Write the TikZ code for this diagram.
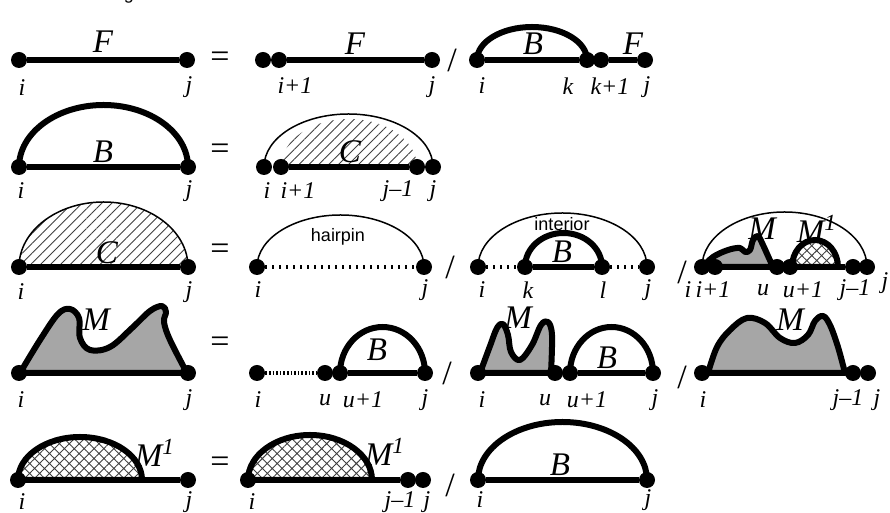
\documentclass[tikz,border=0pt]{standalone}
\usepackage{fontspec}
\setmainfont{Liberation Serif}
\setsansfont{Liberation Sans}
\usetikzlibrary{patterns.meta}

\begin{document}
\begin{tikzpicture}[x=0.5pt,y=0.5pt,
  dot/.style={circle,fill=black,inner sep=0pt,minimum size=8pt},
  bond/.style={line width=3pt},
  thinarc/.style={line width=0.75pt},
  unpaired/.style={line width=2.4pt,dash pattern=on 1pt off 2.5pt},
  unpaireddense/.style={line width=2.4pt,dash pattern=on 0.8pt off 1pt},
  lbl/.style={inner sep=0pt,font=\fontsize{12}{12}\selectfont\itshape},
  big/.style={inner sep=0pt,font=\fontsize{16.5}{16.5}\selectfont\itshape},
  op/.style={inner sep=0pt,font=\fontsize{17}{17}\selectfont},
  tag/.style={inner sep=0pt,font=\sffamily\fontsize{9}{9}\selectfont},
  mshape/.style={fill=black!35,draw=black,line width=3pt,line join=round},
  hatch/.style={pattern={Lines[angle=45,distance=3.5pt,line width=0.45pt]},pattern color=black!75},
  xhatch/.style={pattern={Hatch[angle=45,distance=3.5pt,line width=0.45pt]},pattern color=black!75}]
\useasboundingbox (0,0) rectangle (890,513);
\node[tag,anchor=base] (cap) at (129,513) {g};

% F
\begin{scope}[shift={(0,453)}]
\node[dot] (fa) at (19,0) {};
\node[dot] (fb) at (187,0) {};
\draw[bond] (fa) -- (fb);
\node[big] (fF1) at (103,18) {F};
\node[lbl] (fi1) at (22,-28) {i};
\node[lbl] (fj1) at (189,-27) {j};
\node[op] (feq) at (220,0) {=};
\node[dot] (fc) at (263,0) {};
\node[dot] (fd) at (279,0) {};
\node[dot] (fe) at (432,0) {};
\draw[bond] (fd) -- (fe);
\node[big] (fF2) at (355,16) {F};
\node[lbl] (fi2) at (295,-26) {i+1};
\node[lbl] (fj2) at (432,-27) {j};
\node[op] (fsl) at (452,0) {/};
\node[dot] (ff) at (477,0) {};
\node[dot] (fg) at (587,0) {};
\node[dot] (fh) at (601,0) {};
\node[dot] (fk) at (645,0) {};
\draw[bond] (ff.center) arc[start angle=180,end angle=0,x radius=55,y radius=33];
\draw[bond] (ff) -- (fg);
\draw[bond] (fh) -- (fk);
\node[big] (fB) at (533,16) {B};
\node[big] (fF3) at (633,16) {F};
\node[lbl] (fi3) at (482,-26) {i};
\node[lbl] (fk3) at (568,-26) {k};
\node[lbl] (fk4) at (610,-26) {k+1};
\node[lbl] (fj3) at (647,-27) {j};
\end{scope}

% B
\begin{scope}[shift={(0,346)}]
\node[dot] (ba) at (19,0) {};
\node[dot] (bb) at (188,0) {};
\draw[bond] (ba.center) arc[start angle=180,end angle=0,x radius=84.5,y radius=62];
\draw[bond] (ba) -- (bb);
\node[big] (bB) at (103,15) {B};
\node[lbl] (bi1) at (21,-24) {i};
\node[lbl] (bj1) at (189,-24) {j};
\node[op] (beq) at (220,15) {=};
\fill[hatch] (281,0) arc[start angle=180,end angle=0,x radius=68,y radius=48] -- cycle;
\node[dot] (bc) at (264,0) {};
\node[dot] (bd) at (281,0) {};
\node[dot] (be) at (417,0) {};
\node[dot] (bf) at (433,0) {};
\draw[thinarc] (bc.center) arc[start angle=180,end angle=0,x radius=84.5,y radius=53];
\draw[bond] (bd) -- (be);
\node[big] (bC) at (350,15) {C};
\node[lbl] (bi2) at (267,-24) {i};
\node[lbl] (bi3) at (298,-24) {i+1};
\node[lbl] (bj2) at (398,-24) {j–1};
\node[lbl] (bj3) at (433,-24) {j};
\end{scope}

% C
\begin{scope}[shift={(0,246)}]
\fill[hatch] (19,0) arc[start angle=180,end angle=0,x radius=84.5,y radius=65] -- cycle;
\node[dot] (ca) at (19,0) {};
\node[dot] (cb) at (188,0) {};
\draw[thinarc] (ca.center) arc[start angle=180,end angle=0,x radius=84.5,y radius=65];
\draw[bond] (ca) -- (cb);
\node[big] (cC) at (107,14) {C};
\node[lbl] (ci1) at (21,-25) {i};
\node[lbl] (cj1) at (189,-25) {j};
\node[op] (ceq) at (220,15) {=};
% hairpin
\node[dot] (cc) at (257,0) {};
\node[dot] (cd) at (424,0) {};
\draw[thinarc] (cc.center) arc[start angle=180,end angle=0,x radius=83.5,y radius=52];
\draw[unpaired] (cc) -- (cd);
\node[tag] (chp) at (338,30) {hairpin};
\node[lbl] (ci2) at (258,-23) {i};
\node[lbl] (cj2) at (425,-23) {j};
\node[op] (csl1) at (450,0) {/};
% interior
\node[dot] (ce) at (478,0) {};
\node[dot] (cf) at (525,0) {};
\node[dot] (cg) at (602,0) {};
\node[dot] (ch) at (647,0) {};
\draw[thinarc] (ce.center) arc[start angle=180,end angle=0,x radius=84.5,y radius=54];
\draw[unpaired] (ce) -- (cf);
\draw[unpaired] (cg) -- (ch);
\draw[bond] (cf.center) arc[start angle=180,end angle=0,x radius=38.5,y radius=34];
\draw[bond] (cf) -- (cg);
\node[tag] (cint) at (562,43) {interior};
\node[big] (cB) at (562,15) {B};
\node[lbl] (ci3) at (482,-23) {i};
\node[lbl] (ck3) at (528,-23) {k};
\node[lbl] (cl3) at (603,-23) {l};
\node[lbl] (cj3) at (648,-23) {j};
\node[op] (csl2) at (682,-5) {/};
% multi
\filldraw[mshape] plot[smooth,tension=0.6] coordinates {(703,0) (713,10) (728,17) (740,19) (745,15) (750,17) (753,27) (758,31) (763,22) (768,11) (773,0)} -- cycle;
\draw[bond,xhatch] (792,0) arc[start angle=180,end angle=0,x radius=23,y radius=27] -- cycle;
\node[dot] (cm) at (702,0) {};
\node[dot] (cn) at (715,0) {};
\node[dot] (co) at (777,0) {};
\node[dot] (cp) at (790,0) {};
\node[dot] (cq) at (853,0) {};
\node[dot] (cr) at (867,0) {};
\draw[thinarc] (cm.center) arc[start angle=180,end angle=0,x radius=82.5,y radius=55];
\draw[bond] (cm) -- (cq);
\node[big] (cM) at (762,38) {M};
\node[big] (cM1) at (817,38) {M\textsuperscript{1}};
\node[lbl] (ci4) at (688,-23) {i};
\node[lbl] (ci5) at (713,-23) {i+1};
\node[lbl] (cu4) at (763,-23) {u};
\node[lbl] (cu5) at (803,-23) {u+1};
\node[lbl] (cj4) at (855,-23) {j–1};
\node[lbl] (cj5) at (885,-16) {j};
\end{scope}

% M
\begin{scope}[shift={(0,140)}]
\filldraw[mshape] plot[smooth,tension=0.6] coordinates {(20,0) (40,33) (58,59) (70,64) (79,55) (80,35) (90,23) (110,26) (132,45) (150,62) (162,67) (166,61) (164,51) (170,33) (187,0)} -- cycle;
\node[dot] (ma) at (19,0) {};
\node[dot] (mb) at (188,0) {};
\draw[bond] (ma) -- (mb);
\node[big] (mM1) at (96,53) {M};
\node[lbl] (mi1) at (21,-27) {i};
\node[lbl] (mj1) at (189,-27) {j};
\node[op] (meq) at (220,28) {=};
\node[dot] (mc) at (257,0) {};
\node[dot] (md) at (325,0) {};
\node[dot] (me) at (340,0) {};
\node[dot] (mf) at (425,0) {};
\draw[unpaireddense] (mc) -- (md);
\draw[bond] (me.center) arc[start angle=180,end angle=0,x radius=42.5,y radius=46];
\draw[bond] (me) -- (mf);
\node[big] (mB1) at (377,23) {B};
\node[lbl] (mi2) at (258,-27) {i};
\node[lbl] (mu2) at (325,-27) {u};
\node[lbl] (mu3) at (363,-27) {u+1};
\node[lbl] (mj2) at (425,-27) {j};
\node[op] (msl1) at (447,0) {/};
\filldraw[mshape] plot[smooth,tension=0.6] coordinates {(480,0) (490,27) (497,45) (503,49) (508,38) (511,21) (520,13) (532,28) (541,48) (548,51) (552,38) (551,0)} -- cycle;
\node[dot] (mg) at (478,0) {};
\node[dot] (mh) at (555,0) {};
\node[dot] (mk) at (570,0) {};
\node[dot] (ml) at (653,0) {};
\draw[bond] (mg) -- (mh);
\draw[bond] (mk.center) arc[start angle=180,end angle=0,x radius=41.5,y radius=46];
\draw[bond] (mk) -- (ml);
\node[big] (mM2) at (518,55) {M};
\node[big] (mB2) at (607,15) {B};
\node[lbl] (mi3) at (482,-27) {i};
\node[lbl] (mu4) at (545,-27) {u};
\node[lbl] (mu5) at (587,-27) {u+1};
\node[lbl] (mj3) at (655,-27) {j};
\node[op] (msl2) at (682,-4) {/};
\filldraw[mshape] plot[smooth,tension=0.6] coordinates {(708,0) (717,26) (730,43) (747,55) (765,50) (780,35) (795,30) (808,38) (815,52) (823,57) (830,48) (838,26) (845,0)} -- cycle;
\node[dot] (mm) at (702,0) {};
\node[dot] (mn) at (853,0) {};
\node[dot] (mo) at (868,0) {};
\draw[bond] (mm) -- (mn);
\node[big] (mM3) at (790,53) {M};
\node[lbl] (mi4) at (703,-27) {i};
\node[lbl] (mj4) at (848,-27) {j–1};
\node[lbl] (mj5) at (877,-27) {j};
\end{scope}

% M1
\begin{scope}[shift={(0,33)}]
\draw[bond,xhatch] (18,0) arc[start angle=180,end angle=0,x radius=62,y radius=43] -- cycle;
\node[dot] (na) at (18,0) {};
\node[dot] (nb) at (188,0) {};
\draw[bond] (na) -- (nb);
\node[big] (nM1) at (155,27) {M\textsuperscript{1}};
\node[lbl] (ni1) at (22,-22) {i};
\node[lbl] (nj1) at (189,-22) {j};
\node[op] (neq) at (220,15) {=};
\draw[bond,xhatch] (248,0) arc[start angle=180,end angle=0,x radius=62,y radius=45] -- cycle;
\node[dot] (nc) at (248,0) {};
\node[dot] (nd) at (408,0) {};
\node[dot] (ne) at (423,0) {};
\draw[bond] (nc) -- (nd);
\node[big] (nM2) at (385,28) {M\textsuperscript{1}};
\node[lbl] (ni2) at (252,-22) {i};
\node[lbl] (nj2) at (400,-22) {j–1};
\node[lbl] (nj3) at (427,-22) {j};
\node[op] (nsl) at (450,-5) {/};
\node[dot] (nf) at (478,0) {};
\node[dot] (ng) at (647,0) {};
\draw[bond] (nf.center) arc[start angle=180,end angle=0,x radius=84.5,y radius=58];
\draw[bond] (nf) -- (ng);
\node[big] (nB) at (560,15) {B};
\node[lbl] (ni3) at (480,-20) {i};
\node[lbl] (nj4) at (648,-20) {j};
\end{scope}
\end{tikzpicture}
\end{document}
